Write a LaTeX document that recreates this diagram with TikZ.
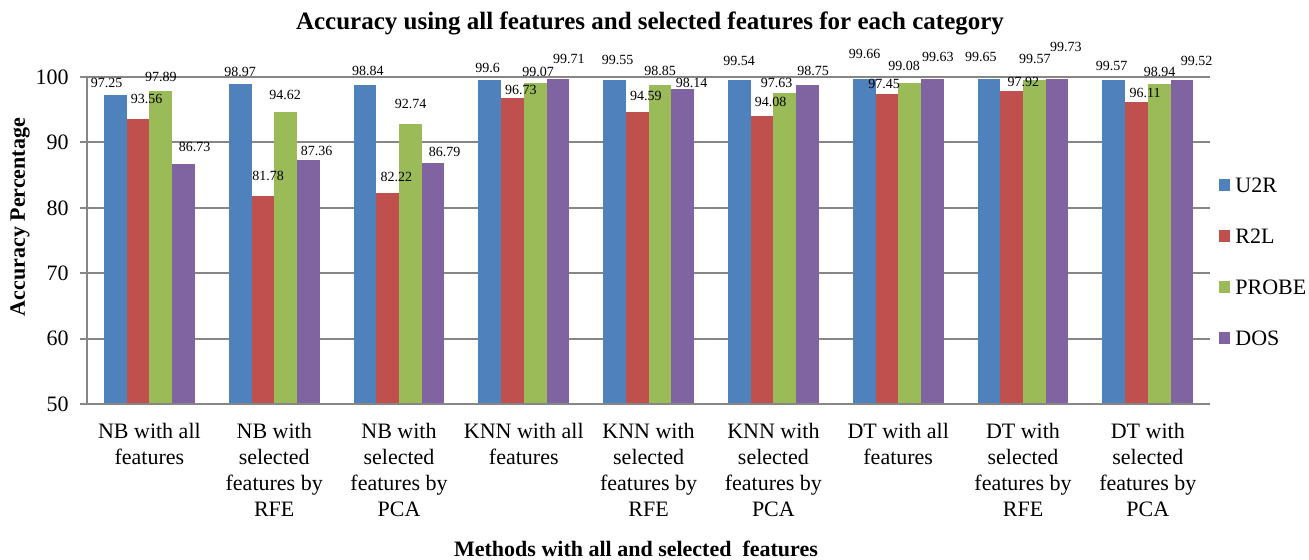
\documentclass[tikz,border=0pt]{standalone}
\usepackage{fontspec}
\setmainfont{Liberation Serif}
\usepackage{tikz}

\definecolor{ubar}{HTML}{4F81BD}
\definecolor{rbar}{HTML}{C0504D}
\definecolor{pbar}{HTML}{9BBB59}
\definecolor{dbar}{HTML}{8064A2}
\definecolor{gridgray}{HTML}{868686}

\begin{document}
\begin{tikzpicture}[x=0.5pt, y=-0.5pt,
	vlabel/.style={font=\fontsize{7}{8}\selectfont, inner sep=0pt},
	catlabel/.style={font=\fontsize{11}{13}\selectfont, align=center, anchor=north, inner sep=0pt},
	ticklabel/.style={font=\fontsize{11}{13}\selectfont, anchor=east, inner sep=0pt},
	axtitle/.style={font=\bfseries\fontsize{11}{13}\selectfont}]
		\useasboundingbox (0,0) rectangle (1309,559);
		%grid and ticks
		\foreach \v in {60,70,80,90,100} {
			\draw[gridgray, line width=1pt] (80,{404-(\v-50)*6.54}) -- (1210,{404-(\v-50)*6.54});
		}
		\foreach \v in {50,60,70,80,90,100}
			\node[ticklabel] (tick\v) at (69,{404-(\v-50)*6.54}) {\v};
		%bars
		\foreach \g/\a/\b/\c/\d in {0/97.25/93.56/97.89/86.73, 1/98.97/81.78/94.62/87.36,
			2/98.84/82.22/92.74/86.79, 3/99.6/96.73/99.07/99.71, 4/99.55/94.59/98.85/98.14,
			5/99.54/94.08/97.63/98.75, 6/99.66/97.45/99.08/99.63, 7/99.65/97.92/99.57/99.73,
			8/99.57/96.11/98.94/99.52}
			\foreach \k/\val/\col in {0/\a/ubar, 1/\b/rbar, 2/\c/pbar, 3/\d/dbar}
				\fill[\col] ({87+(\g+0.5)*124.8+(\k-2)*22.7},404) rectangle ++(22.7,{-(\val-50)*6.54});
		%axes
		\draw[gridgray, line width=1pt] (87,77) -- (87,404);
		\draw[gridgray, line width=1pt] (80,404) -- (1210,404);
		%values
		\foreach \x/\y/\t [count=\i] in {106.7/83.3/97.25, 146.5/99.3/93.56, 160.8/76.7/97.89, 194.5/146.7/86.73,
			240/72/98.97, 268.2/176/81.78, 285.2/94.7/94.62, 316.7/150.7/87.36,
			367.8/70.7/98.84, 396.3/176.7/82.22, 410.5/104.3/92.74, 444.5/151.7/86.79,
			487.5/67.7/99.6, 520.8/90/96.73, 538/72.3/99.07, 568.8/59/99.71,
			617.5/60/99.55, 645.8/95.7/94.59, 660/70.7/98.85, 691.5/83.3/98.14,
			739.2/60.7/99.54, 770.7/101.7/94.08, 776.5/83.3/97.63, 813.2/70.7/98.75,
			864.5/54/99.66, 884.2/84.3/97.45, 904.2/65.7/99.08, 937.8/56.7/99.63,
			980.8/56.7/99.65, 1023.3/82.3/97.92, 1034.8/59.3/99.57, 1065.8/47/99.73,
			1111.5/65.7/99.57, 1145/93.3/96.11, 1159.7/72.3/98.94, 1196.5/61/99.52}
			\node[vlabel] (val\i) at (\x,\y) {\t};
		%categories
		\foreach \g/\t in {0/{NB with all\\features}, 1/{NB with\\selected\\features by\\RFE},
			2/{NB with\\selected\\features by\\PCA}, 3/{KNN with all\\features},
			4/{KNN with\\selected\\features by\\RFE}, 5/{KNN with\\selected\\features by\\PCA},
			6/{DT with all\\features}, 7/{DT with\\selected\\features by\\RFE},
			8/{DT with\\selected\\features by\\PCA}}
			\node[catlabel] (cat\g) at ({87+(\g+0.5)*124.8},423) {\t};
		%legend
		\foreach \k/\name/\col/\y in {0/U2R/ubar/185, 1/R2L/rbar/236, 2/PROBE/pbar/287, 3/DOS/dbar/338} {
			\fill[\col] (1219,{\y-5.7}) rectangle ++(11.4,11.4);
			\node[anchor=west, inner sep=0pt, font=\fontsize{11}{13}\selectfont] (leg\k) at (1235,\y) {\name};
		}
		%titles
		\node[axtitle, font=\bfseries\fontsize{12.5}{14}\selectfont] (title) at (650,23) {Accuracy using all features and selected features for each category};
		\node[axtitle, rotate=90] (ytitle) at (20,217) {Accuracy Percentage};
		\node[axtitle] (xtitle) at (636,549) {Methods with all and selected\ \ features};
	\end{tikzpicture}
\end{document}
